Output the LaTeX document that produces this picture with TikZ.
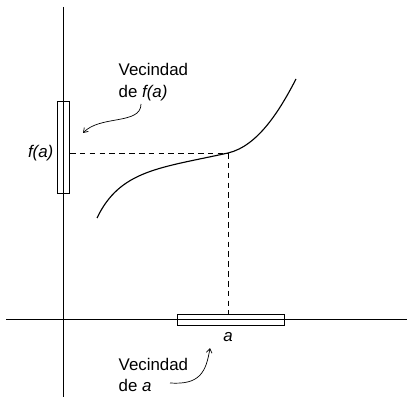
\documentclass[tikz,border=0pt]{standalone}
\usepackage{fontspec}
\setmainfont{Liberation Sans}
\usetikzlibrary{arrows.meta}

\tikzset{
  lbl/.style={inner sep=1pt, font=\fontsize{12}{15.5}\selectfont},
  axis/.style={line width=0.6pt},
  guide/.style={dashed, line width=0.5pt, dash pattern=on 4pt off 3pt},
  hint/.style={line width=0.5pt, -{Straight Barb[length=3pt,width=4pt]}}
}

\begin{document}
\begin{tikzpicture}[x=0.025cm, y=-0.025cm]
    \useasboundingbox (0, 0) rectangle (407, 400);
    % axes
    \draw[axis] (63, 7) -- (63, 397);
    \draw[axis] (6, 319) -- (407, 319);
    % neighbourhood boxes
    \draw[axis] (57, 101) rectangle (69, 193);
    \draw[axis] (177, 314) rectangle (284, 325);
    % point and guides
    \coordinate (P) at (228, 153);
    \coordinate (Py) at (70, 153);
    \coordinate (Px) at (228, 314);
    \draw[guide] (Py) -- (P);
    \draw[guide] (P) -- (Px);
    % graph
    \draw[line width=0.8pt] (97, 218) .. controls (120, 170) and (160, 168) .. (P)
        .. controls (258, 146) and (280, 110) .. (296, 79);
    % labels
    \node[lbl, anchor=east] at (55, 153) (fa) {\textit{f(a)}};
    \node[lbl] at (228, 337) (a) {\textit{a}};
    \node[lbl, anchor=west, align=left] at (117, 82) (vfa) {Vecindad\\de \textit{f(a)}};
    \node[lbl, anchor=west, align=left] at (117, 375) (va) {Vecindad\\de \textit{a}};
    % pointers
    \coordinate (s1) at (141, 104);
    \coordinate (e1) at (83, 133);
    \draw[hint] (s1) .. controls (141, 125) and (100, 115) .. (e1);
    \coordinate (s2) at (170, 383);
    \coordinate (e2) at (210, 348);
    \draw[hint] (s2) .. controls (200, 385) and (206, 372) .. (e2);
\end{tikzpicture}
\end{document}
